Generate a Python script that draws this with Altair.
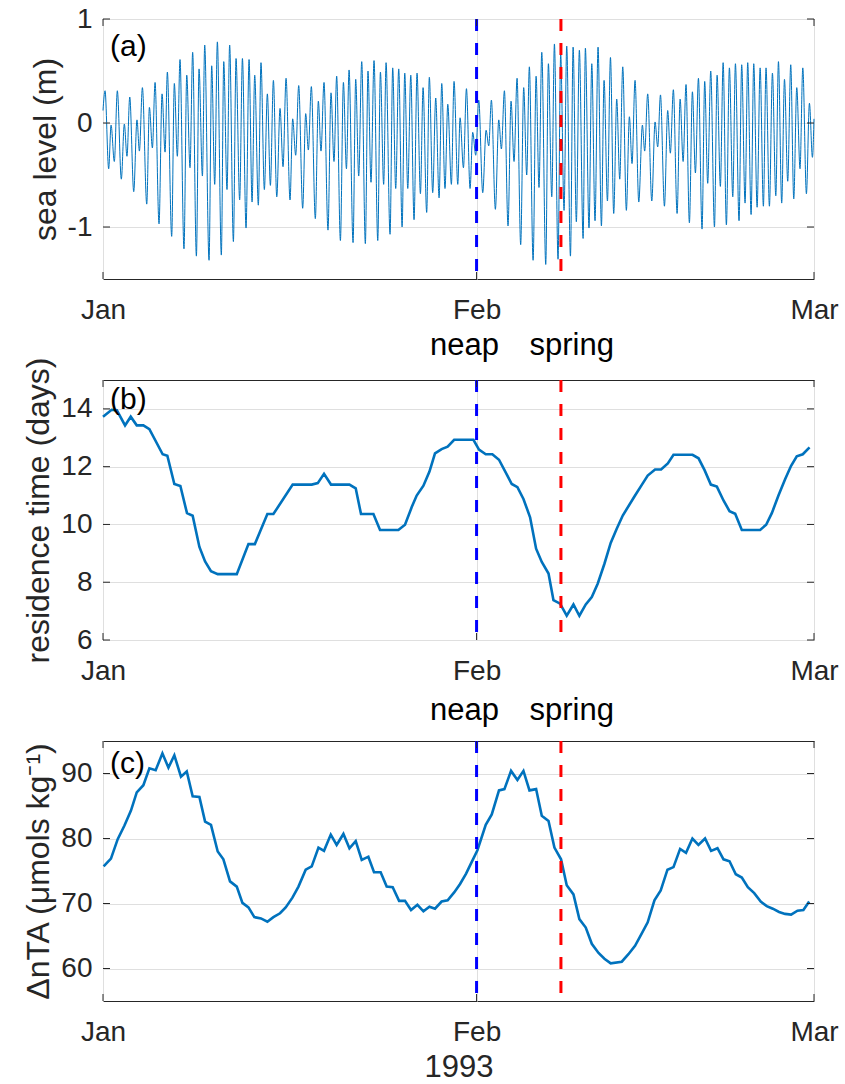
import altair as alt
import pandas as pd

# ---------------- data ----------------
# x positions are days since 1 Jan 1993
x_ticks = [0, 31, 59]
x_tick_labels = ["Jan", "Feb", "Mar"]
x_title = "1993"

event_days = [31.0, 38.0]
event_colors = ["#0000ff", "#ff0000"]
event_labels = ["neap", "spring"]
event_label_days = [30.0, 38.9]

# (a) sea level: successive high / low water extrema
a_days = [
    0.0, 0.17, 0.47, 0.67, 0.94, 1.19, 1.52, 1.77, 1.99, 2.22,
    2.55, 2.82, 3.02, 3.27, 3.63, 3.85, 4.10, 4.32, 4.65, 4.90,
    5.15, 5.34, 5.70, 5.92, 6.17, 6.39, 6.72, 6.95, 7.22, 7.44,
    7.75, 7.97, 8.25, 8.44, 8.80, 9.02, 9.27, 9.49, 9.82, 10.02,
    10.29, 10.51, 10.82, 11.04, 11.34, 11.57, 11.87, 12.12, 12.37, 12.59,
    12.89, 13.11, 13.39, 13.64, 13.89, 14.14, 14.42, 14.69, 14.94, 15.19,
    15.52, 15.74, 15.99, 16.24, 16.57, 16.82, 17.04, 17.29, 17.62, 17.87,
    18.09, 18.34, 18.67, 18.92, 19.17, 19.39, 19.70, 19.95, 20.20, 20.42,
    20.75, 20.97, 21.22, 21.47, 21.77, 21.99, 22.24, 22.49, 22.80, 23.02,
    23.29, 23.49, 23.82, 24.04, 24.29, 24.54, 24.82, 25.04, 25.29, 25.54,
    25.81, 26.06, 26.34, 26.56, 26.86, 27.08, 27.36, 27.61, 27.89, 28.11,
    28.38, 28.61, 28.91, 29.13, 29.44, 29.63, 29.91, 30.16, 30.46, 30.68,
    30.93, 31.18, 31.51, 31.79, 32.01, 32.23, 32.56, 32.84, 33.06, 33.31,
    33.61, 33.86, 34.11, 34.36, 34.66, 34.91, 35.16, 35.38, 35.69, 35.94,
    36.18, 36.41, 36.74, 36.96, 37.24, 37.46, 37.76, 37.98, 38.26, 38.48,
    38.79, 39.01, 39.28, 39.53, 39.84, 40.03, 40.33, 40.56, 40.83, 41.08,
    41.36, 41.58, 41.86, 42.11, 42.38, 42.63, 42.88, 43.13, 43.43, 43.68,
    43.90, 44.15, 44.46, 44.76, 44.95, 45.20, 45.54, 45.81, 46.03, 46.26,
    46.59, 46.86, 47.08, 47.33, 47.64, 47.89, 48.14, 48.38, 48.66, 48.91,
    49.16, 49.41, 49.71, 49.93, 50.18, 50.43, 50.74, 50.96, 51.23, 51.46,
    51.73, 51.98, 52.26, 52.48, 52.78, 53.00, 53.28, 53.50, 53.78, 54.00,
    54.28, 54.53, 54.80, 55.02, 55.30, 55.55, 55.83, 56.05, 56.32, 56.55,
    56.82, 57.07, 57.32, 57.57, 57.84, 58.07, 58.37, 58.62, 58.87, 59.00,
]
a_level = [
    0.12, 0.31, -0.44, -0.02, -0.37, 0.31, -0.54, -0.01, -0.32, 0.25,
    -0.66, 0.03, -0.27, 0.34, -0.78, 0.15, -0.24, 0.39, -0.97, 0.28,
    -0.28, 0.49, -1.09, 0.38, -0.32, 0.61, -1.21, 0.46, -0.43, 0.68,
    -1.28, 0.52, -0.51, 0.75, -1.32, 0.55, -0.59, 0.78, -1.27, 0.59,
    -0.64, 0.75, -1.14, 0.62, -0.74, 0.62, -1.01, 0.61, -0.76, 0.46,
    -0.79, 0.58, -0.64, 0.28, -0.60, 0.41, -0.71, 0.14, -0.42, 0.43,
    -0.74, 0.04, -0.31, 0.36, -0.82, 0.09, -0.26, 0.35, -0.92, 0.21,
    -0.27, 0.39, -1.03, 0.29, -0.37, 0.45, -1.13, 0.39, -0.44, 0.51,
    -1.15, 0.42, -0.51, 0.59, -1.16, 0.50, -0.57, 0.60, -1.13, 0.49,
    -0.59, 0.58, -1.07, 0.53, -0.63, 0.52, -1.00, 0.48, -0.63, 0.46,
    -0.93, 0.48, -0.68, 0.34, -0.86, 0.44, -0.67, 0.24, -0.72, 0.38,
    -0.63, 0.18, -0.59, 0.40, -0.59, 0.05, -0.43, 0.33, -0.63, -0.09,
    -0.31, 0.22, -0.67, -0.07, -0.22, 0.22, -0.83, 0.03, -0.25, 0.31,
    -0.99, 0.21, -0.37, 0.43, -1.17, 0.34, -0.50, 0.54, -1.32, 0.45,
    -0.62, 0.68, -1.36, 0.57, -0.71, 0.76, -1.31, 0.66, -0.84, 0.74,
    -1.28, 0.73, -0.95, 0.70, -1.11, 0.72, -1.01, 0.57, -0.94, 0.73,
    -0.99, 0.41, -0.75, 0.63, -0.87, 0.23, -0.54, 0.54, -0.84, 0.06,
    -0.39, 0.41, -0.76, -0.02, -0.27, 0.28, -0.75, 0.01, -0.23, 0.27,
    -0.80, 0.12, -0.29, 0.32, -0.87, 0.23, -0.37, 0.37, -0.96, 0.30,
    -0.48, 0.43, -1.02, 0.40, -0.58, 0.50, -1.00, 0.46, -0.61, 0.58,
    -0.98, 0.53, -0.71, 0.57, -0.94, 0.56, -0.77, 0.58, -0.88, 0.57,
    -0.81, 0.53, -0.80, 0.53, -0.80, 0.48, -0.70, 0.59, -0.77, 0.42,
    -0.56, 0.56, -0.73, 0.34, -0.44, 0.53, -0.68, 0.19, -0.33, 0.04,
]

# (b) residence time (days)
b_days = [
    0.0, 0.72, 1.15, 1.83, 2.3, 2.8, 3.35, 3.85, 4.95, 5.34,
    5.92, 6.42, 6.97, 7.44, 8.0, 8.47, 8.96, 9.52, 11.1, 12.07,
    12.6, 13.64, 14.14, 15.74, 17.32, 17.82, 18.34, 18.92, 20.45, 20.97,
    21.41, 22.44, 22.99, 24.51, 25.06, 25.62, 26.03, 26.59, 27.09, 27.55,
    28.1, 28.6, 29.14, 30.74, 31.2, 31.76, 32.31, 32.86, 33.92, 34.39,
    34.89, 35.44, 35.94, 36.41, 36.97, 37.38, 37.93, 38.48, 39.04, 39.53,
    40.06, 40.56, 41.05, 41.61, 42.13, 42.63, 43.13, 44.15, 44.71, 45.2,
    45.81, 46.31, 46.87, 47.34, 48.92, 49.42, 49.92, 50.44, 50.94, 51.49,
    51.99, 52.46, 53.01, 54.53, 55.03, 55.5, 56.05, 56.61, 57.1, 57.57,
    58.07, 58.63,
]
b_res = [
    13.73, 13.97, 13.95, 13.43, 13.73, 13.43, 13.43, 13.3, 12.43, 12.38,
    11.4, 11.33, 10.39, 10.3, 9.22, 8.72, 8.38, 8.28, 8.28, 9.32,
    9.32, 10.36, 10.36, 11.38, 11.38, 11.43, 11.75, 11.38, 11.38, 11.25,
    10.36, 10.36, 9.81, 9.81, 9.99, 10.6, 11.0, 11.34, 11.83, 12.46,
    12.61, 12.69, 12.93, 12.93, 12.59, 12.43, 12.43, 12.24, 11.4, 11.29,
    10.88, 10.25, 9.16, 8.7, 8.3, 7.38, 7.26, 6.84, 7.23, 6.84,
    7.23, 7.49, 7.95, 8.64, 9.36, 9.85, 10.31, 11.0, 11.37, 11.69,
    11.9, 11.9, 12.11, 12.41, 12.41, 12.29, 11.88, 11.38, 11.31, 10.83,
    10.46, 10.37, 9.81, 9.81, 9.99, 10.39, 11.0, 11.57, 12.03, 12.36,
    12.43, 12.67,
]

# (c) delta nTA (umol/kg)
c_days = [
    0.05, 0.66, 1.22, 1.78, 2.32, 2.8, 3.35, 3.85, 4.37, 4.93,
    5.43, 5.92, 6.47, 6.95, 7.44, 8.0, 8.47, 8.96, 9.52, 9.99,
    10.54, 11.1, 11.57, 12.07, 12.56, 13.11, 13.64, 14.14, 14.69, 15.16,
    15.72, 16.22, 16.82, 17.32, 17.88, 18.34, 18.9, 19.39, 19.95, 20.45,
    20.97, 21.47, 22.02, 22.49, 23.04, 23.54, 24.04, 24.57, 25.06, 25.56,
    26.09, 26.59, 27.09, 27.55, 28.1, 28.6, 29.14, 29.63, 30.13, 30.6,
    31.07, 31.76, 32.26, 32.86, 33.31, 33.86, 34.39, 34.89, 35.39, 35.94,
    36.41, 36.97, 37.46, 38.01, 38.48, 39.04, 39.53, 40.06, 40.56, 41.12,
    41.61, 42.13, 43.05, 43.6, 44.15, 44.71, 45.2, 45.76, 46.28, 46.84,
    47.34, 47.89, 48.38, 48.91, 49.41, 49.96, 50.46, 50.99, 51.49, 51.99,
    52.51, 53.01, 53.51, 54.04, 54.58, 55.08, 55.58, 56.1, 56.6, 57.1,
    57.63, 58.12, 58.6,
]
c_nta = [
    75.7, 76.9, 79.9, 82.0, 84.3, 87.1, 88.2, 90.8, 90.5, 93.1,
    90.9, 92.8, 89.5, 90.3, 86.5, 86.4, 82.6, 82.1, 78.0, 76.8,
    73.4, 72.6, 70.1, 69.4, 67.9, 67.7, 67.2, 67.9, 68.5, 69.4,
    70.9, 72.6, 75.2, 75.7, 78.6, 78.1, 80.6, 79.0, 80.7, 78.5,
    79.6, 76.7, 77.2, 74.8, 74.8, 72.6, 72.5, 70.4, 70.4, 69.0,
    69.8, 68.8, 69.5, 69.2, 70.3, 70.5, 71.7, 73.0, 74.6, 76.4,
    78.2, 82.1, 83.7, 87.4, 87.6, 90.4, 89.0, 90.4, 87.4, 87.6,
    83.5, 82.7, 78.6, 76.8, 72.8, 71.4, 67.6, 66.3, 63.8, 62.4,
    61.5, 60.8, 61.05, 62.2, 63.5, 65.4, 67.1, 70.5, 72.0, 75.2,
    75.6, 78.4, 77.8, 80.0, 79.0, 80.0, 78.1, 78.5, 76.8, 76.5,
    74.5, 74.0, 72.5, 71.6, 70.3, 69.6, 69.2, 68.7, 68.4, 68.3,
    68.9, 69.0, 70.3,
]

a_yticks = [-1, 0, 1]
a_ylabels = ["-1", "0", "1"]
b_yticks = [6, 8, 10, 12, 14]
b_ylabels = ["6", "8", "10", "12", "14"]
c_yticks = [60, 70, 80, 90]
c_ylabels = ["60", "70", "80", "90"]

# ---------------- style ----------------
FONT = "Liberation Sans"
W, H = 711, 260
DARK = "#262626"
GRID = "#dfdfdf"
LINE = "#0072BD"


def label_expr(values, labels):
    parts = [f"datum.value == {v} ? '{l}'" for v, l in zip(values, labels)]
    return " : ".join(parts) + " : ''"


def panel(df, yfield, ydomain, yticks, ylabels, ytitle, title_x, line_width,
          interp, tag, tag_y, event_text_y=None, show_xtitle=False):
    xs = alt.Scale(domain=[0, 59], nice=False, zero=False)
    ys = alt.Scale(domain=ydomain, nice=False, zero=False)
    xaxis = alt.Axis(values=x_ticks, labelExpr=label_expr(x_ticks, x_tick_labels),
                     grid=True, gridColor=GRID, gridWidth=1, ticks=False, tickSize=0,
                     domain=False, labelPadding=17, labelFontSize=28, labelColor=DARK,
                     labelFlush=False, labelFont=FONT, title=None)
    yaxis = alt.Axis(values=yticks, labelExpr=label_expr(yticks, ylabels),
                     grid=True, gridColor=GRID, gridWidth=1, ticks=False, tickSize=0,
                     domain=False, labelPadding=11, labelFontSize=28, labelColor=DARK,
                     labelFont=FONT, title=ytitle, titleAngle=270, titleX=title_x,
                     titleY=H / 2, titleAlign="center", titleBaseline="alphabetic",
                     titleFontSize=32, titleFontWeight="normal", titleColor=DARK,
                     titleFont=FONT)

    line = alt.Chart(df).mark_line(color=LINE, strokeWidth=line_width,
                                   interpolate=interp).encode(
        x=alt.X("day:Q", scale=xs, axis=xaxis),
        y=alt.Y(f"{yfield}:Q", scale=ys, axis=yaxis),
    )

    ev = pd.DataFrame({"day": event_days, "color": event_colors})
    rules = alt.Chart(ev).mark_rule(strokeWidth=3, strokeDash=[12, 12]).encode(
        x=alt.X("day:Q", scale=xs, axis=xaxis),
        color=alt.Color("color:N", scale=None),
    )

    yt = pd.DataFrame({"v": yticks})
    xt = pd.DataFrame({"day": x_ticks})
    tl = alt.Chart(yt).mark_rule(color=DARK, strokeWidth=1).encode(
        y=alt.Y("v:Q", scale=ys, axis=yaxis), x=alt.value(0), x2=alt.value(7))
    tr = alt.Chart(yt).mark_rule(color=DARK, strokeWidth=1).encode(
        y=alt.Y("v:Q", scale=ys, axis=yaxis), x=alt.value(W - 7), x2=alt.value(W))
    tb = alt.Chart(xt).mark_rule(color=DARK, strokeWidth=1).encode(
        x=alt.X("day:Q", scale=xs, axis=xaxis), y=alt.value(H - 7), y2=alt.value(H))
    tt = alt.Chart(xt).mark_rule(color=DARK, strokeWidth=1).encode(
        x=alt.X("day:Q", scale=xs, axis=xaxis), y=alt.value(0), y2=alt.value(7))

    tagc = alt.Chart(pd.DataFrame({"t": [tag]})).mark_text(
        align="left", baseline="alphabetic", fontSize=30, color="#000000", font=FONT
    ).encode(x=alt.value(7), y=alt.value(tag_y), text="t:N")

    layers = [line, rules, tl, tr, tb, tt, tagc]

    if event_text_y is not None:
        el = pd.DataFrame({"day": event_label_days, "label": event_labels})
        layers.append(alt.Chart(el).mark_text(
            align="center", baseline="alphabetic", fontSize=31, color="#000000", font=FONT
        ).encode(x=alt.X("day:Q", scale=xs, axis=xaxis), y=alt.value(event_text_y),
                 text="label:N"))

    if show_xtitle:
        layers.append(alt.Chart(pd.DataFrame({"t": [x_title]})).mark_text(
            align="center", baseline="alphabetic", fontSize=31, color=DARK, font=FONT
        ).encode(x=alt.value(W / 2 + 0.5), y=alt.value(H + 76), text="t:N"))

    return alt.layer(*layers).properties(width=W, height=H)


df_a = pd.DataFrame({"day": a_days, "level": a_level})
df_b = pd.DataFrame({"day": b_days, "res": b_res})
df_c = pd.DataFrame({"day": c_days, "nta": c_nta})

pa = panel(df_a, "level", [-1.5, 1], a_yticks, a_ylabels, "sea level (m)", -48, 1,
           "monotone", "(a)", 37)
pb = panel(df_b, "res", [6, 15], b_yticks, b_ylabels, "residence time (days)", -55, 2.6,
           "linear", "(b)", 28.5, event_text_y=-25.4)
pc = panel(df_c, "nta", [55, 95], c_yticks, c_ylabels, "ΔnTA (μmols kg⁻¹)", -55, 2.6,
           "linear", "(c)", 31.5, event_text_y=-20.7, show_xtitle=True)

chart = alt.vconcat(pa, pb, pc, spacing=101, bounds="flush").properties(
    padding={"left": 21, "top": 4, "right": 5, "bottom": 0}
).configure(font=FONT).configure_view(stroke=DARK, strokeWidth=1)

chart.save("out.html", embed_options={"renderer": "svg", "actions": False})
